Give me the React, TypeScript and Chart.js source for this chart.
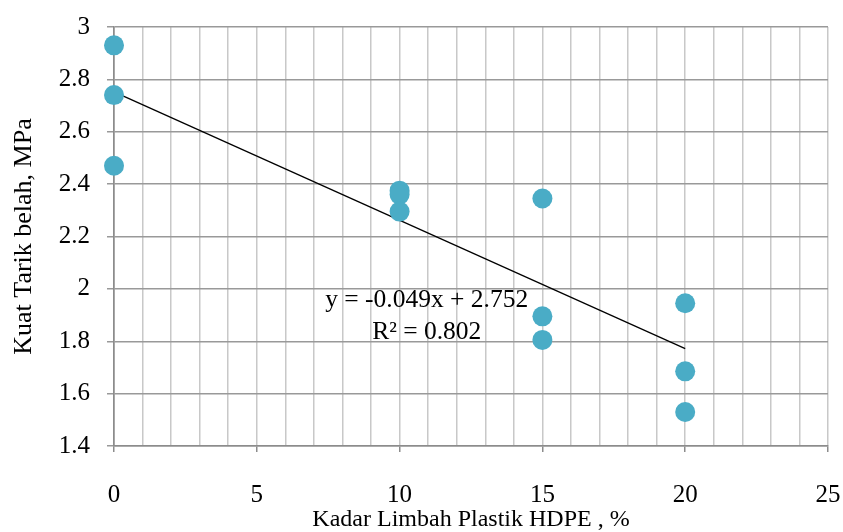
import React, { useEffect, useRef } from "react";
import { Chart, registerables } from "chart.js";

Chart.register(...registerables);

const kadar: number[] = [0, 0, 0, 10, 10, 10, 15, 15, 15, 20, 20, 20];
const kuatTarik: number[] = [2.93, 2.74, 2.47, 2.375, 2.36, 2.295, 2.345, 1.895, 1.805, 1.945, 1.685, 1.53];
const trendSlope = -0.049;
const trendIntercept = 2.752;
const trendR2 = 0.802;
const trendRange: number[] = [0, 20];
const xTickLabels: number[] = [0, 5, 10, 15, 20, 25];
const yTickLabels: number[] = [1.4, 1.6, 1.8, 2, 2.2, 2.4, 2.6, 2.8, 3];
const eqLabelPos = { x: 10.95, y1: 1.955, y2: 1.835 };

const FONT = "'Liberation Serif', 'Times New Roman', serif";

export default function App() {
  const ref = useRef<HTMLCanvasElement | null>(null);
  useEffect(() => {
    if (!ref.current) return;
    const points = kadar.map((x, i) => ({ x, y: kuatTarik[i] }));
    const trend = trendRange.map((x) => ({ x, y: trendIntercept + trendSlope * x }));
    const eqPlugin = {
      id: "eqText",
      afterDatasetsDraw(chart: any) {
        const { ctx, scales } = chart;
        const px = scales.x.getPixelForValue(eqLabelPos.x);
        ctx.save();
        ctx.fillStyle = "#000";
        ctx.font = `25.5px ${FONT}`;
        ctx.textAlign = "center";
        ctx.textBaseline = "middle";
        const sgn = trendIntercept >= 0 ? "+" : "-";
        ctx.fillText(
          `y = ${trendSlope.toFixed(3)}x ${sgn} ${Math.abs(trendIntercept).toFixed(3)}`,
          px,
          scales.y.getPixelForValue(eqLabelPos.y1)
        );
        ctx.fillText(`R² = ${trendR2.toFixed(3)}`, px, scales.y.getPixelForValue(eqLabelPos.y2));
        ctx.restore();
      },
    };
    const chart = new Chart(ref.current, {
      type: "scatter",
      data: {
        datasets: [
          {
            type: "line",
            label: "Trend",
            data: trend,
            borderColor: "#000",
            borderWidth: 1.3,
            pointRadius: 0,
            fill: false,
            clip: false,
            order: 2,
          } as any,
          {
            label: "Data",
            data: points,
            backgroundColor: "#4AACC6",
            borderWidth: 0,
            pointRadius: 10,
            clip: false,
            order: 1,
          } as any,
        ],
      },
      options: {
        animation: false,
        responsive: false,
        maintainAspectRatio: false,
        layout: { padding: { top: 27, right: 15, left: 0, bottom: 0 } },
        plugins: { legend: { display: false }, tooltip: { enabled: false } },
        scales: {
          x: {
            type: "linear",
            min: 0,
            max: 25,
            afterFit: (s: any) => {
              s.height = 86;
              s.paddingLeft = 0;
              s.paddingRight = 0;
            },
            ticks: {
              stepSize: 1,
              autoSkip: false,
              maxRotation: 0,
              padding: 28,
              color: "#000",
              font: { family: FONT, size: 25 },
              callback: (v: any) => (xTickLabels.includes(Number(v)) ? String(v) : ""),
            },
            grid: {
              color: (c: any) => (c.tick && c.tick.value === 0 ? "#8c8c8c" : "#c8c8c8"),
              lineWidth: 1.5,
              tickLength: 6,
              tickColor: (c: any) =>
                c.tick && xTickLabels.includes(c.tick.value) ? "#8c8c8c" : "rgba(0,0,0,0)",
            },
            border: { color: "#8c8c8c", width: 1.5 },
            title: {
              display: true,
              text: "Kadar Limbah Plastik HDPE , %",
              color: "#000",
              font: { family: FONT, size: 24 },
              padding: { top: 0, bottom: -2 },
            },
          },
          y: {
            type: "linear",
            min: 1.4,
            max: 3,
            afterFit: (s: any) => {
              s.width = 114;
              s.paddingTop = 0;
              s.paddingBottom = 0;
            },
            ticks: {
              stepSize: 0.2,
              padding: 17,
              color: "#000",
              font: { family: FONT, size: 25 },
              callback: (v: any) => {
                const n = Number(Number(v).toFixed(1));
                return yTickLabels.includes(n) ? String(n) : "";
              },
            },
            grid: {
              color: "#999999",
              lineWidth: 1.5,
              tickLength: 7,
              tickColor: "#999999",
            },
            border: { color: "#8c8c8c", width: 1.5 },
            title: {
              display: true,
              text: "Kuat Tarik belah, MPa",
              color: "#000",
              font: { family: FONT, size: 26 },
              padding: { top: 9, bottom: 0 },
            },
          },
        },
      },
      plugins: [eqPlugin],
    });
    return () => chart.destroy();
  }, []);
  return (
    <div style={{ position: "absolute", left: 0, top: 0, width: 843, height: 532, background: "#fff" }}>
      <canvas ref={ref} width={843} height={532} style={{ width: 843, height: 532 }} />
    </div>
  );
}
